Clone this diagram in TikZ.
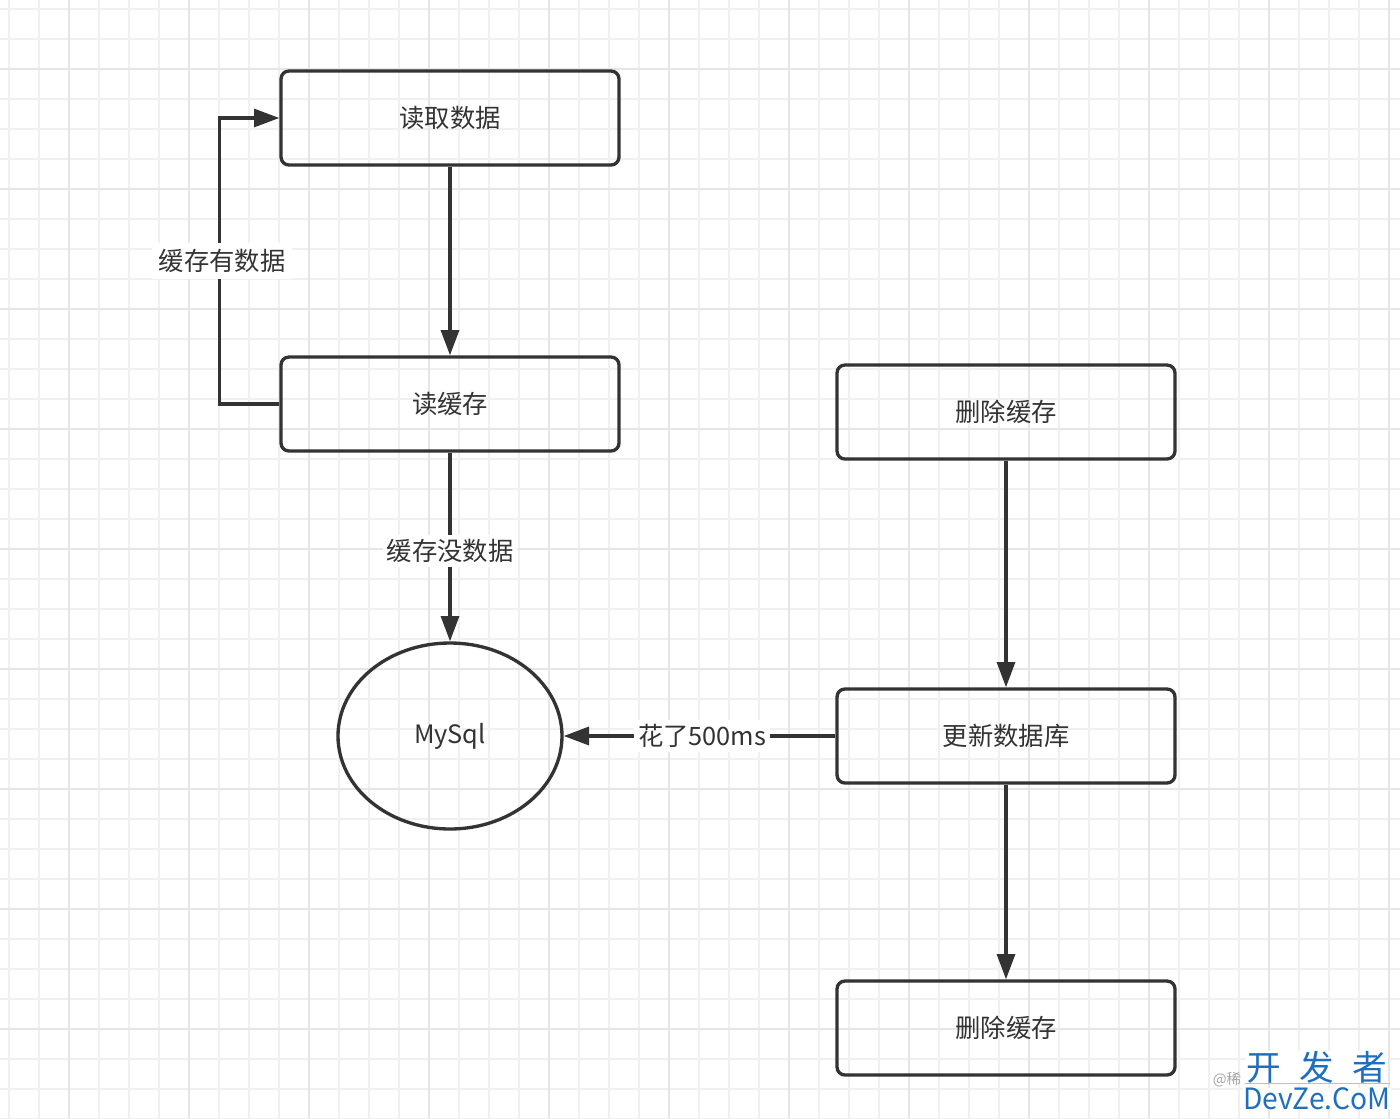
\documentclass[tikz,border=0pt]{standalone}
\usepackage{fontspec}
\setmainfont{Noto Sans CJK SC}
\usetikzlibrary{arrows.meta,shapes.geometric}

\definecolor{linegray}{HTML}{333333}
\definecolor{gridminor}{HTML}{F0F0F0}
\definecolor{gridmajor}{HTML}{E6E6E6}
\definecolor{wmblue}{HTML}{1F6FBF}

\tikzset{
    box/.style={draw=linegray, line width=2.5pt, rounded corners=6pt,
        minimum width=253.5pt, minimum height=70.5pt, inner sep=0pt,
        text=linegray, font=\fontsize{19}{23}\selectfont},
    db/.style={ellipse, draw=linegray, line width=2.5pt,
        minimum width=168pt, minimum height=139.5pt, inner sep=0pt,
        text=linegray, font=\fontsize{19}{23}\selectfont},
    flow/.style={draw=linegray, line width=2.4pt,
        -{Triangle[length=19pt, width=13.5pt]}},
    lbl/.style={fill=white, text=linegray, inner sep=3pt,
        font=\fontsize{19}{23}\selectfont}
}

\begin{document}
\begin{tikzpicture}[x=0.75pt, y=-0.75pt]
    % Background and grid
    \fill[white] (0,0) rectangle (1400,1118);
    \useasboundingbox (0,0) rectangle (1400,1118);
    \foreach \i in {0,...,46} {
        \draw[gridminor, line width=1.1pt] (9+30*\i, 0) -- (9+30*\i, 1118);
    }
    \foreach \i in {0,...,37} {
        \draw[gridminor, line width=1.1pt] (0, 9+30*\i) -- (1400, 9+30*\i);
    }
    \foreach \i in {0,...,11} {
        \draw[gridmajor, line width=1.5pt] (69+120*\i, 0) -- (69+120*\i, 1118);
    }
    \foreach \i in {0,...,8} {
        \draw[gridmajor, line width=1.5pt] (0, 69+120*\i) -- (1400, 69+120*\i);
    }

    % Read path
    \node[box] (read) at (450,118) {读取数据};
    \node[box] (cache) at (450,404) {读缓存};
    \node[db] (mysql) at (450,736) {MySql};

    % Write path
    \node[box] (delA) at (1006,412) {删除缓存};
    \node[box] (update) at (1006,736) {更新数据库};
    \node[box] (delB) at (1006,1028) {删除缓存};

    % Connectors
    \draw[flow] (read) -- (cache);
    \draw[flow] (cache.west) -- ++(-60,0) |- (read.west)
        node[lbl, pos=0.25, inner sep=5pt, xshift=2pt] {缓存有数据};
    \draw[flow] (cache) -- (mysql)
        node[lbl, midway, yshift=-3pt] {缓存没数据};
    \draw[flow] (delA) -- (update);
    \draw[flow] (update) -- (delB);
    \draw[flow] (update) -- (mysql)
        node[lbl, midway, xshift=2pt] {花了500ms};

    % Watermark
    \node[text=gray!70, font=\fontsize{11}{11}\selectfont, anchor=east]
        (wmat) at (1246,1080) {@稀};
    \node[fill=white, text=wmblue, inner sep=0pt, font=\fontsize{26}{26}\selectfont]
        (wmcn) at (1317,1067) {开\hspace{14pt}发\hspace{14pt}者};
    \draw[wmblue!40, line width=0.75pt] (1245,1083) -- (1390,1083);
    \node[fill=white, text=wmblue, inner sep=0pt, font=\fontsize{22}{22}\selectfont]
        (wmen) at (1317,1099) {\scalebox{0.96}[1]{DevZe.CoM}};
\end{tikzpicture}
\end{document}
